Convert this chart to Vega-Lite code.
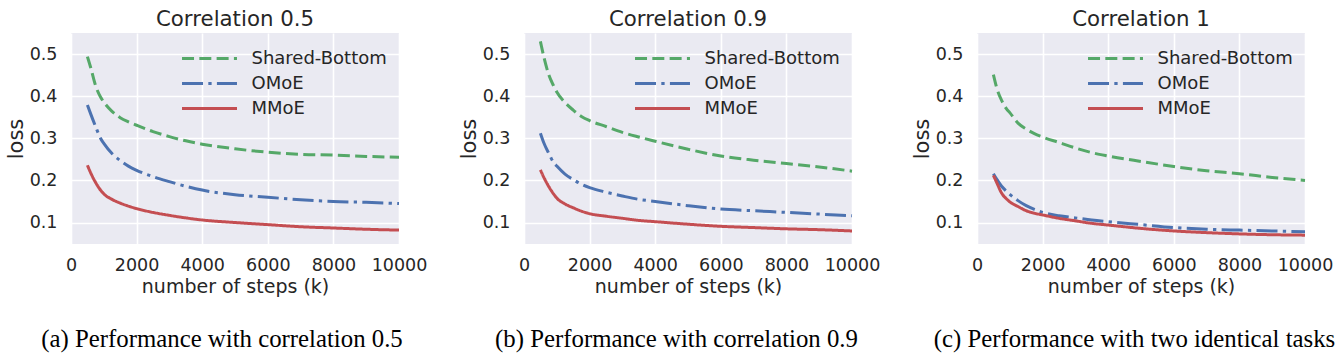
{
"$schema": "https://vega.github.io/schema/vega-lite/v6.json",
"padding": {"left": 5, "top": 8, "right": 5, "bottom": 5},
"background": "white",
"datasets": {"d": [
{"p":"a","m":"Shared-Bottom","x":500,"y":0.494},{"p":"a","m":"Shared-Bottom","x":600,"y":0.468},{"p":"a","m":"Shared-Bottom","x":750,"y":0.425},{"p":"a","m":"Shared-Bottom","x":900,"y":0.398},{"p":"a","m":"Shared-Bottom","x":1000,"y":0.386},{"p":"a","m":"Shared-Bottom","x":1250,"y":0.364},{"p":"a","m":"Shared-Bottom","x":1500,"y":0.349},{"p":"a","m":"Shared-Bottom","x":1750,"y":0.339},{"p":"a","m":"Shared-Bottom","x":2000,"y":0.331},{"p":"a","m":"Shared-Bottom","x":2500,"y":0.316},{"p":"a","m":"Shared-Bottom","x":3000,"y":0.304},{"p":"a","m":"Shared-Bottom","x":3500,"y":0.294},{"p":"a","m":"Shared-Bottom","x":4000,"y":0.286},{"p":"a","m":"Shared-Bottom","x":5000,"y":0.275},{"p":"a","m":"Shared-Bottom","x":6000,"y":0.267},{"p":"a","m":"Shared-Bottom","x":7000,"y":0.262},{"p":"a","m":"Shared-Bottom","x":8000,"y":0.26},{"p":"a","m":"Shared-Bottom","x":9000,"y":0.257},{"p":"a","m":"Shared-Bottom","x":10000,"y":0.255},
{"p":"a","m":"OMoE","x":500,"y":0.379},{"p":"a","m":"OMoE","x":600,"y":0.358},{"p":"a","m":"OMoE","x":750,"y":0.328},{"p":"a","m":"OMoE","x":900,"y":0.3},{"p":"a","m":"OMoE","x":1000,"y":0.288},{"p":"a","m":"OMoE","x":1250,"y":0.264},{"p":"a","m":"OMoE","x":1500,"y":0.247},{"p":"a","m":"OMoE","x":1750,"y":0.234},{"p":"a","m":"OMoE","x":2000,"y":0.224},{"p":"a","m":"OMoE","x":2500,"y":0.209},{"p":"a","m":"OMoE","x":3000,"y":0.197},{"p":"a","m":"OMoE","x":3500,"y":0.186},{"p":"a","m":"OMoE","x":4000,"y":0.177},{"p":"a","m":"OMoE","x":5000,"y":0.166},{"p":"a","m":"OMoE","x":6000,"y":0.16},{"p":"a","m":"OMoE","x":7000,"y":0.154},{"p":"a","m":"OMoE","x":8000,"y":0.15},{"p":"a","m":"OMoE","x":9000,"y":0.148},{"p":"a","m":"OMoE","x":10000,"y":0.145},
{"p":"a","m":"MMoE","x":500,"y":0.236},{"p":"a","m":"MMoE","x":600,"y":0.218},{"p":"a","m":"MMoE","x":750,"y":0.195},{"p":"a","m":"MMoE","x":900,"y":0.177},{"p":"a","m":"MMoE","x":1000,"y":0.168},{"p":"a","m":"MMoE","x":1250,"y":0.155},{"p":"a","m":"MMoE","x":1500,"y":0.146},{"p":"a","m":"MMoE","x":1750,"y":0.139},{"p":"a","m":"MMoE","x":2000,"y":0.133},{"p":"a","m":"MMoE","x":2500,"y":0.124},{"p":"a","m":"MMoE","x":3000,"y":0.117},{"p":"a","m":"MMoE","x":3500,"y":0.111},{"p":"a","m":"MMoE","x":4000,"y":0.106},{"p":"a","m":"MMoE","x":5000,"y":0.1},{"p":"a","m":"MMoE","x":6000,"y":0.095},{"p":"a","m":"MMoE","x":7000,"y":0.09},{"p":"a","m":"MMoE","x":8000,"y":0.087},{"p":"a","m":"MMoE","x":9000,"y":0.084},{"p":"a","m":"MMoE","x":10000,"y":0.082},
{"p":"b","m":"Shared-Bottom","x":500,"y":0.53},{"p":"b","m":"Shared-Bottom","x":600,"y":0.495},{"p":"b","m":"Shared-Bottom","x":750,"y":0.452},{"p":"b","m":"Shared-Bottom","x":900,"y":0.425},{"p":"b","m":"Shared-Bottom","x":1000,"y":0.41},{"p":"b","m":"Shared-Bottom","x":1250,"y":0.385},{"p":"b","m":"Shared-Bottom","x":1500,"y":0.367},{"p":"b","m":"Shared-Bottom","x":1750,"y":0.352},{"p":"b","m":"Shared-Bottom","x":2000,"y":0.342},{"p":"b","m":"Shared-Bottom","x":2500,"y":0.328},{"p":"b","m":"Shared-Bottom","x":3000,"y":0.314},{"p":"b","m":"Shared-Bottom","x":3500,"y":0.303},{"p":"b","m":"Shared-Bottom","x":4000,"y":0.293},{"p":"b","m":"Shared-Bottom","x":5000,"y":0.274},{"p":"b","m":"Shared-Bottom","x":6000,"y":0.258},{"p":"b","m":"Shared-Bottom","x":7000,"y":0.248},{"p":"b","m":"Shared-Bottom","x":8000,"y":0.24},{"p":"b","m":"Shared-Bottom","x":9000,"y":0.232},{"p":"b","m":"Shared-Bottom","x":10000,"y":0.222},
{"p":"b","m":"OMoE","x":500,"y":0.312},{"p":"b","m":"OMoE","x":600,"y":0.29},{"p":"b","m":"OMoE","x":750,"y":0.265},{"p":"b","m":"OMoE","x":900,"y":0.243},{"p":"b","m":"OMoE","x":1000,"y":0.234},{"p":"b","m":"OMoE","x":1250,"y":0.215},{"p":"b","m":"OMoE","x":1500,"y":0.202},{"p":"b","m":"OMoE","x":1750,"y":0.191},{"p":"b","m":"OMoE","x":2000,"y":0.183},{"p":"b","m":"OMoE","x":2500,"y":0.172},{"p":"b","m":"OMoE","x":3000,"y":0.163},{"p":"b","m":"OMoE","x":3500,"y":0.155},{"p":"b","m":"OMoE","x":4000,"y":0.15},{"p":"b","m":"OMoE","x":5000,"y":0.14},{"p":"b","m":"OMoE","x":6000,"y":0.132},{"p":"b","m":"OMoE","x":7000,"y":0.128},{"p":"b","m":"OMoE","x":8000,"y":0.124},{"p":"b","m":"OMoE","x":9000,"y":0.12},{"p":"b","m":"OMoE","x":10000,"y":0.116},
{"p":"b","m":"MMoE","x":500,"y":0.225},{"p":"b","m":"MMoE","x":600,"y":0.208},{"p":"b","m":"MMoE","x":750,"y":0.186},{"p":"b","m":"MMoE","x":900,"y":0.168},{"p":"b","m":"MMoE","x":1000,"y":0.158},{"p":"b","m":"MMoE","x":1250,"y":0.144},{"p":"b","m":"MMoE","x":1500,"y":0.135},{"p":"b","m":"MMoE","x":1750,"y":0.127},{"p":"b","m":"MMoE","x":2000,"y":0.121},{"p":"b","m":"MMoE","x":2500,"y":0.115},{"p":"b","m":"MMoE","x":3000,"y":0.11},{"p":"b","m":"MMoE","x":3500,"y":0.105},{"p":"b","m":"MMoE","x":4000,"y":0.102},{"p":"b","m":"MMoE","x":5000,"y":0.096},{"p":"b","m":"MMoE","x":6000,"y":0.091},{"p":"b","m":"MMoE","x":7000,"y":0.088},{"p":"b","m":"MMoE","x":8000,"y":0.085},{"p":"b","m":"MMoE","x":9000,"y":0.083},{"p":"b","m":"MMoE","x":10000,"y":0.08},
{"p":"c","m":"Shared-Bottom","x":500,"y":0.451},{"p":"c","m":"Shared-Bottom","x":600,"y":0.42},{"p":"c","m":"Shared-Bottom","x":750,"y":0.39},{"p":"c","m":"Shared-Bottom","x":900,"y":0.37},{"p":"c","m":"Shared-Bottom","x":1000,"y":0.361},{"p":"c","m":"Shared-Bottom","x":1250,"y":0.336},{"p":"c","m":"Shared-Bottom","x":1500,"y":0.322},{"p":"c","m":"Shared-Bottom","x":1750,"y":0.311},{"p":"c","m":"Shared-Bottom","x":2000,"y":0.303},{"p":"c","m":"Shared-Bottom","x":2500,"y":0.29},{"p":"c","m":"Shared-Bottom","x":3000,"y":0.277},{"p":"c","m":"Shared-Bottom","x":3500,"y":0.266},{"p":"c","m":"Shared-Bottom","x":4000,"y":0.258},{"p":"c","m":"Shared-Bottom","x":5000,"y":0.245},{"p":"c","m":"Shared-Bottom","x":6000,"y":0.233},{"p":"c","m":"Shared-Bottom","x":7000,"y":0.223},{"p":"c","m":"Shared-Bottom","x":8000,"y":0.216},{"p":"c","m":"Shared-Bottom","x":9000,"y":0.207},{"p":"c","m":"Shared-Bottom","x":10000,"y":0.2},
{"p":"c","m":"OMoE","x":500,"y":0.216},{"p":"c","m":"OMoE","x":600,"y":0.203},{"p":"c","m":"OMoE","x":750,"y":0.186},{"p":"c","m":"OMoE","x":900,"y":0.174},{"p":"c","m":"OMoE","x":1000,"y":0.167},{"p":"c","m":"OMoE","x":1250,"y":0.152},{"p":"c","m":"OMoE","x":1500,"y":0.14},{"p":"c","m":"OMoE","x":1750,"y":0.131},{"p":"c","m":"OMoE","x":2000,"y":0.124},{"p":"c","m":"OMoE","x":2500,"y":0.116},{"p":"c","m":"OMoE","x":3000,"y":0.111},{"p":"c","m":"OMoE","x":3500,"y":0.106},{"p":"c","m":"OMoE","x":4000,"y":0.102},{"p":"c","m":"OMoE","x":5000,"y":0.095},{"p":"c","m":"OMoE","x":6000,"y":0.088},{"p":"c","m":"OMoE","x":7000,"y":0.084},{"p":"c","m":"OMoE","x":8000,"y":0.082},{"p":"c","m":"OMoE","x":9000,"y":0.08},{"p":"c","m":"OMoE","x":10000,"y":0.078},
{"p":"c","m":"MMoE","x":500,"y":0.212},{"p":"c","m":"MMoE","x":600,"y":0.195},{"p":"c","m":"MMoE","x":750,"y":0.17},{"p":"c","m":"MMoE","x":900,"y":0.156},{"p":"c","m":"MMoE","x":1000,"y":0.149},{"p":"c","m":"MMoE","x":1250,"y":0.138},{"p":"c","m":"MMoE","x":1500,"y":0.128},{"p":"c","m":"MMoE","x":1750,"y":0.122},{"p":"c","m":"MMoE","x":2000,"y":0.118},{"p":"c","m":"MMoE","x":2500,"y":0.11},{"p":"c","m":"MMoE","x":3000,"y":0.104},{"p":"c","m":"MMoE","x":3500,"y":0.098},{"p":"c","m":"MMoE","x":4000,"y":0.094},{"p":"c","m":"MMoE","x":5000,"y":0.086},{"p":"c","m":"MMoE","x":6000,"y":0.08},{"p":"c","m":"MMoE","x":7000,"y":0.076},{"p":"c","m":"MMoE","x":8000,"y":0.073},{"p":"c","m":"MMoE","x":9000,"y":0.071},{"p":"c","m":"MMoE","x":10000,"y":0.07}
]},
"spacing": 31,
"resolve": {"scale": {"color": "independent", "strokeDash": "independent"}, "legend": {"color": "independent", "strokeDash": "independent"}},
"hconcat": [
{"title": {"text": "(a) Performance with correlation 0.5", "orient": "bottom", "anchor": "middle", "dx": 6, "font": "Liberation Serif", "fontSize": 24.8, "fontWeight": "normal", "color": "black", "offset": 30},
 "resolve": {"scale": {"color": "independent", "strokeDash": "independent"}, "legend": {"color": "independent", "strokeDash": "independent"}},
 "vconcat": [{
  "title": {"text": "Correlation 0.5", "fontSize": 21.3, "font": "DejaVu Sans", "fontWeight": "normal", "color": "#262626", "offset": 3},
  "width": 328, "height": 211,
  "data": {"name": "d"},
  "transform": [{"filter": "datum.p === 'a'"}],
  "mark": {"type": "line", "strokeWidth": 3, "interpolate": "monotone", "strokeCap": "butt"},
  "encoding": {
    "x": {"field": "x", "type": "quantitative", "scale": {"domain": [0, 10000], "nice": false, "zero": false}, "axis": {"values": [0, 2000, 4000, 6000, 8000, 10000], "format": "d", "title": "number of steps (k)"}},
    "y": {"field": "y", "type": "quantitative", "scale": {"domain": [0.049, 0.55], "nice": false, "zero": false}, "axis": {"values": [0.1, 0.2, 0.3, 0.4, 0.5], "format": ".1f", "title": "loss"}},
    "color": {"field": "m", "type": "nominal", "scale": {"domain": ["Shared-Bottom", "OMoE", "MMoE"], "range": ["#55A868", "#4C72B0", "#C44E52"]}, "legend": {"title": null, "orient": "top-right"}},
    "strokeDash": {"field": "m", "type": "nominal", "scale": {"domain": ["Shared-Bottom", "OMoE", "MMoE"], "range": [[12, 5.3], [21, 5.3, 3.3, 5.3], [1, 0]]}, "legend": {"title": null, "orient": "top-right"}}
  }
 }]
},
{"title": {"text": "(b) Performance with correlation 0.9", "orient": "bottom", "anchor": "middle", "dx": 7.5, "font": "Liberation Serif", "fontSize": 24.8, "fontWeight": "normal", "color": "black", "offset": 30},
 "resolve": {"scale": {"color": "independent", "strokeDash": "independent"}, "legend": {"color": "independent", "strokeDash": "independent"}},
 "vconcat": [{
  "title": {"text": "Correlation 0.9", "fontSize": 21.3, "font": "DejaVu Sans", "fontWeight": "normal", "color": "#262626", "offset": 3},
  "width": 328, "height": 211,
  "data": {"name": "d"},
  "transform": [{"filter": "datum.p === 'b'"}],
  "mark": {"type": "line", "strokeWidth": 3, "interpolate": "monotone", "strokeCap": "butt"},
  "encoding": {
    "x": {"field": "x", "type": "quantitative", "scale": {"domain": [0, 10000], "nice": false, "zero": false}, "axis": {"values": [0, 2000, 4000, 6000, 8000, 10000], "format": "d", "title": "number of steps (k)"}},
    "y": {"field": "y", "type": "quantitative", "scale": {"domain": [0.049, 0.55], "nice": false, "zero": false}, "axis": {"values": [0.1, 0.2, 0.3, 0.4, 0.5], "format": ".1f", "title": "loss"}},
    "color": {"field": "m", "type": "nominal", "scale": {"domain": ["Shared-Bottom", "OMoE", "MMoE"], "range": ["#55A868", "#4C72B0", "#C44E52"]}, "legend": {"title": null, "orient": "top-right"}},
    "strokeDash": {"field": "m", "type": "nominal", "scale": {"domain": ["Shared-Bottom", "OMoE", "MMoE"], "range": [[12, 5.3], [21, 5.3, 3.3, 5.3], [1, 0]]}, "legend": {"title": null, "orient": "top-right"}}
  }
 }]
},
{"title": {"text": "(c) Performance with two identical tasks", "orient": "bottom", "anchor": "middle", "dx": 12.5, "font": "Liberation Serif", "fontSize": 24.8, "fontWeight": "normal", "color": "black", "offset": 30},
 "resolve": {"scale": {"color": "independent", "strokeDash": "independent"}, "legend": {"color": "independent", "strokeDash": "independent"}},
 "vconcat": [{
  "title": {"text": "Correlation 1", "fontSize": 21.3, "font": "DejaVu Sans", "fontWeight": "normal", "color": "#262626", "offset": 3},
  "width": 328, "height": 211,
  "data": {"name": "d"},
  "transform": [{"filter": "datum.p === 'c'"}],
  "mark": {"type": "line", "strokeWidth": 3, "interpolate": "monotone", "strokeCap": "butt"},
  "encoding": {
    "x": {"field": "x", "type": "quantitative", "scale": {"domain": [0, 10000], "nice": false, "zero": false}, "axis": {"values": [0, 2000, 4000, 6000, 8000, 10000], "format": "d", "title": "number of steps (k)"}},
    "y": {"field": "y", "type": "quantitative", "scale": {"domain": [0.049, 0.55], "nice": false, "zero": false}, "axis": {"values": [0.1, 0.2, 0.3, 0.4, 0.5], "format": ".1f", "title": "loss"}},
    "color": {"field": "m", "type": "nominal", "scale": {"domain": ["Shared-Bottom", "OMoE", "MMoE"], "range": ["#55A868", "#4C72B0", "#C44E52"]}, "legend": {"title": null, "orient": "top-right"}},
    "strokeDash": {"field": "m", "type": "nominal", "scale": {"domain": ["Shared-Bottom", "OMoE", "MMoE"], "range": [[12, 5.3], [21, 5.3, 3.3, 5.3], [1, 0]]}, "legend": {"title": null, "orient": "top-right"}}
  }
 }]
}
],
"config": {
  "view": {"stroke": null, "fill": "#EAEAF2"},
  "font": "DejaVu Sans",
  "axis": {"domain": false, "ticks": false, "gridColor": "white", "gridWidth": 1.6, "gridOpacity": 1, "labelFont": "DejaVu Sans", "labelFontSize": 17.5, "labelColor": "#262626", "labelFlush": false, "titleFont": "DejaVu Sans", "titleFontWeight": "normal", "titleColor": "#262626"},
  "axisX": {"labelPadding": 12, "titleFontSize": 19, "titlePadding": 4},
  "axisY": {"labelPadding": 14, "titleFontSize": 21, "titlePadding": 3},
  "legend": {"orient": "top-right", "offset": 12, "padding": 0, "labelFont": "DejaVu Sans", "labelFontSize": 18, "labelColor": "#262626", "labelLimit": 0, "symbolType": "M-2.29,0H2.29", "symbolSize": 576, "symbolStrokeWidth": 3, "labelOffset": 28.5, "rowPadding": 2}
}
}
